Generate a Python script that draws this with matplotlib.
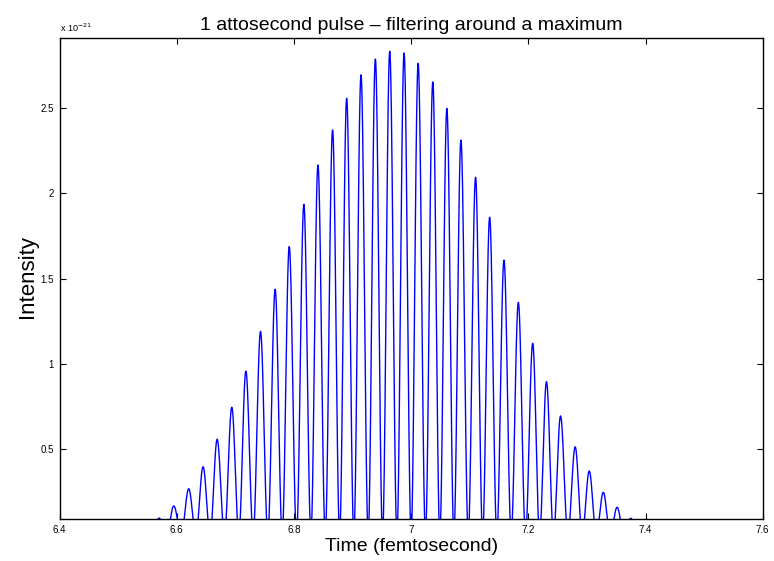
# Attosecond pulse train after filtering around a maximum
import numpy as np
import matplotlib.pyplot as plt

plt.rcParams['font.family'] = ['Liberation Sans', 'DejaVu Sans']

# =============================================================================
# Data: peak times (fs) and peak intensities (x 1e-21)
# =============================================================================
peak_time = [6.570, 6.595, 6.6205, 6.645, 6.669, 6.694, 6.718, 6.743, 6.768,
             6.792, 6.817, 6.841, 6.866, 6.890, 6.9145, 6.939, 6.9635, 6.988,
             7.012, 7.037, 7.061, 7.085, 7.110, 7.134, 7.1585, 7.183, 7.2075,
             7.231, 7.255, 7.280, 7.304, 7.328, 7.3515, 7.375]
peak_height = [0.095, 0.166, 0.267, 0.396, 0.557, 0.745, 0.957, 1.190, 1.437,
               1.687, 1.935, 2.166, 2.371, 2.557, 2.695, 2.787, 2.833, 2.823,
               2.762, 2.653, 2.498, 2.312, 2.094, 1.859, 1.608, 1.360, 1.120,
               0.895, 0.694, 0.513, 0.371, 0.246, 0.158, 0.094]

x_ticks = [6.4, 6.6, 6.8, 7.0, 7.2, 7.4, 7.6]
x_ticklabels = ['6.4', '6.6', '6.8', '7', '7.2', '7.4', '7.6']
y_ticks = [0.5, 1.0, 1.5, 2.0, 2.5]
y_ticklabels = ['0.5', '1', '1.5', '2', '2.5']

# =============================================================================
# Build the trace: one cos^2 lobe per pulse
# =============================================================================
tc = np.array(peak_time)
hp = np.array(peak_height)
gaps = np.diff(tc)
left = np.concatenate([[gaps[0]], gaps]) / 2
right = np.concatenate([gaps, [gaps[-1]]]) / 2

t_all = [np.array([6.4])]
y_all = [np.array([0.0])]
for c, h, l, r in zip(tc, hp, left, right):
    tl = np.linspace(c - l, c, 40)
    tr = np.linspace(c, c + r, 40)[1:]
    yl = h * np.cos(np.pi / 2 * (tl - c) / l) ** 2
    yr = h * np.cos(np.pi / 2 * (tr - c) / r) ** 2
    t_all += [tl, tr]
    y_all += [yl, yr]
t_all.append(np.array([7.6]))
y_all.append(np.array([0.0]))
t = np.concatenate(t_all)
y = np.concatenate(y_all)

# =============================================================================
# Plot
# =============================================================================
fig = plt.figure(figsize=(7.74, 5.61), dpi=100)
ax = fig.add_axes([0.0769, 0.0743, 0.9085, 0.8574])
ax.plot(t, y, color='#0000ff', linewidth=1.0)

ax.set_xlim(6.4, 7.6)
ax.set_ylim(0.0877, 2.909)
ax.set_xticks(x_ticks)
ax.set_xticklabels(x_ticklabels)
ax.set_yticks(y_ticks)
ax.set_yticklabels(y_ticklabels)
ax.tick_params(direction='in', length=4.5, width=0.8, labelsize=7,
               top=True, right=True, pad=4)
for s in ax.spines.values():
    s.set_linewidth(1.0)

ax.set_title('1 attosecond pulse \u2013 filtering around a maximum', fontsize=14, pad=6)
ax.set_xlabel('Time (femtosecond)', fontsize=14, labelpad=2)
ax.set_ylabel('Intensity', fontsize=16)
ax.yaxis.set_label_coords(-0.030, 0.505)
ax.text(0.0, 1.008, r'x 10$^{-21}$', transform=ax.transAxes, fontsize=6.5,
        ha='left', va='bottom')

fig.savefig('out.png', dpi=100)
